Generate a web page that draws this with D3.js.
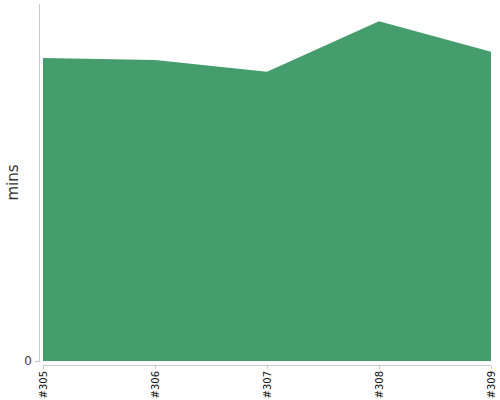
<!DOCTYPE html>
<html>
<head>
<meta charset="utf-8">
<script src="https://cdn.jsdelivr.net/npm/d3@7"></script>
<style>
  body { margin: 0; background: #fff; }
  svg { font-family: "DejaVu Sans", Verdana, sans-serif; }
</style>
</head>
<body>
<svg id="chart" width="500" height="400"></svg>
<script>
// builds and their duration in minutes
const builds = ["#305", "#306", "#307", "#308", "#309"];
const mins = [84.9, 84.3, 81.0, 95.2, 86.6];
const yTicks = [0];

const svg = d3.select("#chart");
const mLeft = 43, mRight = 491, mTop = 4, mBottom = 361;

let x = d3.scalePoint().domain(builds).range([mLeft, mRight]);
let y = d3.scaleLinear().domain([0, 100]).range([mBottom, mTop]);

// area
let area = d3.area()
    .x((d, i) => x(builds[i]))
    .y0(y(0))
    .y1(d => y(d));

svg.append("path")
    .datum(mins)
    .attr("d", area)
    .attr("fill", "#459c6c");

// y axis
svg.append("line")
    .attr("x1", 39.5).attr("x2", 39.5)
    .attr("y1", mTop).attr("y2", mBottom + 1)
    .attr("stroke", "#c8c8c8");

let yAxis = svg.append("g");
yTicks.forEach(t => {
    yAxis.append("line")
        .attr("x1", 35).attr("x2", 39.5)
        .attr("y1", y(t) + 0.5).attr("y2", y(t) + 0.5)
        .attr("stroke", "#c8c8c8");
    yAxis.append("text")
        .attr("x", 32)
        .attr("y", y(t))
        .attr("dy", "0.35em")
        .attr("text-anchor", "end")
        .attr("font-size", "12px")
        .attr("fill", "#444")
        .text(t);
});

svg.append("text")
    .attr("transform", "translate(18," + ((mTop + mBottom) / 2) + ") rotate(-90)")
    .attr("text-anchor", "middle")
    .attr("font-size", "15px")
    .attr("fill", "#333")
    .text("mins");

// x axis
svg.append("line")
    .attr("x1", mLeft).attr("x2", mRight)
    .attr("y1", 365.5).attr("y2", 365.5)
    .attr("stroke", "#c8c8c8");

let xAxis = svg.append("g");
builds.forEach(b => {
    xAxis.append("line")
        .attr("x1", x(b) + 0.5).attr("x2", x(b) + 0.5)
        .attr("y1", 365.5).attr("y2", 369)
        .attr("stroke", "#c8c8c8");
    xAxis.append("text")
        .attr("transform", "translate(" + (x(b) + 0.5) + ",371) rotate(-90)")
        .attr("text-anchor", "end")
        .attr("dy", "0.35em")
        .attr("font-size", "10px")
        .attr("fill", "#111")
        .text(b);
});
</script>
</body>
</html>
